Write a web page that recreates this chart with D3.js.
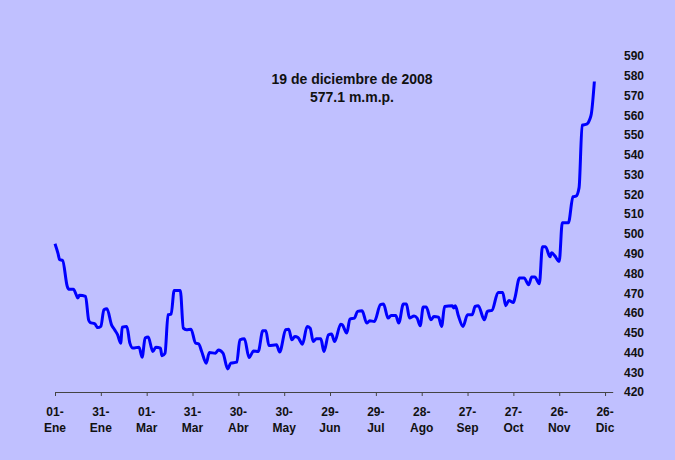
<!DOCTYPE html>
<html lang="es">
<head>
<meta charset="utf-8">
<title>Reservas 2008</title>
<script src="https://cdn.jsdelivr.net/npm/d3@7"></script>
<style>
  body { margin: 0; background: #c0c0ff; }
  text { font-family: "Liberation Sans", Arial, sans-serif; font-weight: bold; fill: #111; }
</style>
</head>
<body>
<div id="main"></div>
<script>
// days since 01-Ene-2008 and value (m.m.p.)
var days = [0, 2, 3, 5, 8, 9, 12, 14, 15, 16, 20, 22, 23, 26, 28, 30, 32, 34, 37, 39,
  41, 43, 44, 47, 49, 51, 55, 57, 59, 61, 64, 66, 69, 70, 72, 74, 76, 78, 82, 84,
  86, 89, 92, 94, 96, 99, 101, 105, 107, 110, 113, 115, 119, 121, 124, 127, 130, 133, 136, 138,
  140, 145, 147, 151, 153, 155, 157, 159, 162, 165, 167, 169, 171, 174, 176, 179, 181, 183, 187, 188,
  191, 193, 196, 198, 201, 204, 206, 209, 213, 215, 218, 220, 223, 225, 228, 230, 232, 235, 237, 239,
  241, 243, 246, 248, 251, 253, 255, 260, 261, 262, 264, 267, 270, 273, 275, 277, 281, 283, 286, 290,
  293, 295, 297, 300, 301, 304, 307, 310, 312, 314, 317, 319, 321, 324, 325, 327, 330, 332, 336, 339,
  341, 343, 345, 348, 350, 351, 353];
var values = [495, 490, 487, 486.5, 473.5, 472, 472, 469, 467.5, 469, 468.4, 456.5, 455.2, 454.5, 452.6, 453.2, 461.6, 462.1, 454, 451.5,
  448.9, 444.7, 452.8, 453.2, 444.7, 442.2, 442.7, 437.6, 447.3, 447.8, 440.5, 442.7, 442.2, 438.3, 439.6, 459.1, 459.4, 471.4, 471.4, 452.3,
  451.5, 451.8, 444.7, 444.4, 440.5, 434.6, 440, 439.6, 441.3, 439.6, 431.7, 434.6, 435.1, 446.4, 446.9, 437.4, 440.8, 440.5, 451, 451,
  443.5, 443.9, 440.2, 451.5, 451.8, 446.4, 448.1, 447.6, 444.2, 453.2, 452.3, 445.5, 446.9, 446.9, 440.5, 448.9, 449.3, 445.5, 454.3, 454,
  449.8, 456.9, 457.4, 460.8, 461.1, 454.9, 456, 455.7, 464.2, 464.5, 457.4, 458.7, 458.7, 454.9, 464.5, 464.5, 457.4, 458.4, 457.4, 453.5,
  463, 463, 456.5, 458.2, 457.9, 453.2, 463.3, 463.7, 462.5, 463.7, 458.6, 453.2, 459.1, 459.1, 463.3, 463.7, 456.5, 460.8, 461.3, 470.4,
  470.4, 463.7, 466.3, 465.3, 467.6, 477.7, 477.7, 474.3, 478.2, 478.2, 474.8, 493.5, 493.5, 488.4, 490.4, 489, 486.1, 505.6, 505.6, 518.8,
  519.1, 523.4, 555, 555.5, 558, 560.6, 577.1];

var tickDays = [0, 30, 60, 90, 120, 150, 180, 210, 240, 270, 300, 330, 360];
var tickDayLabels = ["01-", "31-", "01-", "31-", "30-", "30-", "29-", "29-", "28-", "27-", "27-", "26-", "26-"];
var tickMonthLabels = ["Ene", "Ene", "Mar", "Mar", "Abr", "May", "Jun", "Jul", "Ago", "Sep", "Oct", "Nov", "Dic"];
var yTicks = [420, 430, 440, 450, 460, 470, 480, 490, 500, 510, 520, 530, 540, 550, 560, 570, 580, 590];
var noteLines = ["19 de diciembre de 2008", "577.1 m.m.p."];

var w = 675, h = 460;

var svg = d3.select("#main").append("svg")
  .attr("width", w)
  .attr("height", h);

svg.append("rect").attr("width", w).attr("height", h).attr("fill", "#c0c0ff");

var x = d3.scaleLinear().domain([0, 365]).range([55, 612.7]);
var y = d3.scaleLinear().domain([420, 590]).range([392, 56]);

// x axis
var xAxis = svg.append("g")
  .attr("transform", "translate(0,392)")
  .call(d3.axisBottom(x).tickValues(tickDays).tickSize(4).tickSizeOuter(0).tickFormat(""));
xAxis.selectAll("path, line").attr("stroke", "#444");

var xl = svg.append("g").selectAll("text")
  .data(tickDays)
  .enter()
  .append("text")
  .attr("text-anchor", "middle")
  .attr("font-size", 12)
  .attr("x", function(d) { return x(d); });
xl.append("tspan").attr("x", function(d) { return x(d); }).attr("y", 416)
  .text(function(d, i) { return tickDayLabels[i]; });
xl.append("tspan").attr("x", function(d) { return x(d); }).attr("y", 432)
  .text(function(d, i) { return tickMonthLabels[i]; });

// y labels on the right
var yAxis = svg.append("g")
  .attr("transform", "translate(622,0)")
  .call(d3.axisRight(y).tickValues(yTicks).tickSize(0).tickPadding(2));
yAxis.select(".domain").remove();
yAxis.selectAll("text")
  .attr("font-size", 12)
  .attr("font-family", "Liberation Sans, Arial, sans-serif")
  .attr("fill", "#111");

// line
var pts = days.map(function(d, i) { return [d, values[i]]; });
var line = d3.line()
  .x(function(d) { return x(d[0]); })
  .y(function(d) { return y(d[1]); })
  .curve(d3.curveMonotoneX);

svg.append("path")
  .datum(pts)
  .attr("d", line)
  .attr("fill", "none")
  .attr("stroke", "#0000ff")
  .attr("stroke-width", 3)
  .attr("stroke-linejoin", "round");

// note
svg.append("g").selectAll("text")
  .data(noteLines)
  .enter()
  .append("text")
  .attr("text-anchor", "middle")
  .attr("font-size", 14)
  .attr("x", 352)
  .attr("y", function(d, i) { return 84 + i * 18; })
  .text(function(d) { return d; });
</script>
</body>
</html>
